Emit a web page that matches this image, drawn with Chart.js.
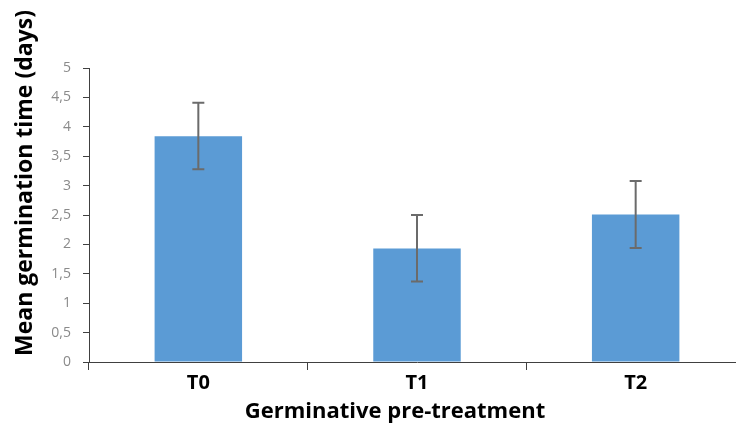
<!DOCTYPE html>
<html>
<head>
<meta charset="utf-8">
<script src="https://cdn.jsdelivr.net/npm/chart.js@4/dist/chart.umd.min.js"></script>
<style>
html,body{margin:0;padding:0;background:#fff;overflow:hidden;}
#wrap{width:750px;height:429px;}
</style>
</head>
<body>
<div id="wrap"><canvas id="c" width="750" height="429"></canvas></div>
<script>
const categories = ["T0", "T1", "T2"];
const meanValues = [3.84, 1.93, 2.51];
const errLow = [3.28, 1.37, 1.94];
const errHigh = [4.41, 2.50, 3.08];
const yTitle = "Mean germination time (days)";
const xTitle = "Germinative pre-treatment";

const errorBars = {
  id: "errorBars",
  afterDatasetsDraw(chart) {
    const ctx = chart.ctx;
    const meta = chart.getDatasetMeta(0);
    const ys = chart.scales.y;
    ctx.save();
    ctx.strokeStyle = "#6b6b6b";
    ctx.lineWidth = 2;
    meta.data.forEach((bar, i) => {
      const x = bar.x;
      const yl = ys.getPixelForValue(errLow[i]);
      const yh = ys.getPixelForValue(errHigh[i]);
      ctx.beginPath();
      ctx.moveTo(x, yl); ctx.lineTo(x, yh);
      ctx.moveTo(x - 6, yl); ctx.lineTo(x + 6, yl);
      ctx.moveTo(x - 6, yh); ctx.lineTo(x + 6, yh);
      ctx.stroke();
    });
    ctx.restore();
  }
};

const titles = {
  id: "titles",
  afterDraw(chart) {
    const ctx = chart.ctx;
    ctx.save();
    ctx.fillStyle = "#000";
    ctx.textAlign = "center";
    ctx.textBaseline = "middle";
    ctx.font = "bold 22px 'Open Sans'";
    ctx.fillText(xTitle, 395, 412);
    ctx.font = "bold 23px 'Open Sans'";
    ctx.translate(25, 183);
    ctx.rotate(-Math.PI / 2);
    ctx.fillText(yTitle, 0, 0);
    ctx.restore();
  }
};

new Chart(document.getElementById("c"), {
  type: "bar",
  data: {
    labels: categories,
    datasets: [{
      data: meanValues,
      backgroundColor: "#5b9bd5",
      borderWidth: 0,
      barPercentage: 0.5,
      categoryPercentage: 0.8
    }]
  },
  options: {
    responsive: false,
    animation: false,
    devicePixelRatio: 1,
    layout: { padding: { top: 68, right: 5, left: 0, bottom: 0 } },
    plugins: { legend: { display: false }, tooltip: { enabled: false } },
    scales: {
      x: {
        grid: { display: true, drawOnChartArea: false, drawTicks: true, tickLength: 8, tickColor: "#404040", offset: true },
        border: { color: "#404040", width: 1 },
        ticks: { color: "#000", font: { family: "'Open Sans'", size: 20, weight: "bold" }, padding: 1 },
        afterFit(s) { s.height = 67; }
      },
      y: {
        min: 0, max: 5,
        grid: { display: true, drawOnChartArea: false, drawTicks: true, tickLength: 6, tickColor: "#404040" },
        border: { color: "#404040", width: 1 },
        ticks: {
          stepSize: 0.5,
          color: "#8a8a8a",
          font: { family: "'Open Sans'", size: 14 },
          padding: 12,
          callback: (v) => String(v).replace(".", ",")
        },
        afterFit(s) { s.width = 89; }
      }
    }
  },
  plugins: [errorBars, titles]
});
</script>
</body>
</html>
